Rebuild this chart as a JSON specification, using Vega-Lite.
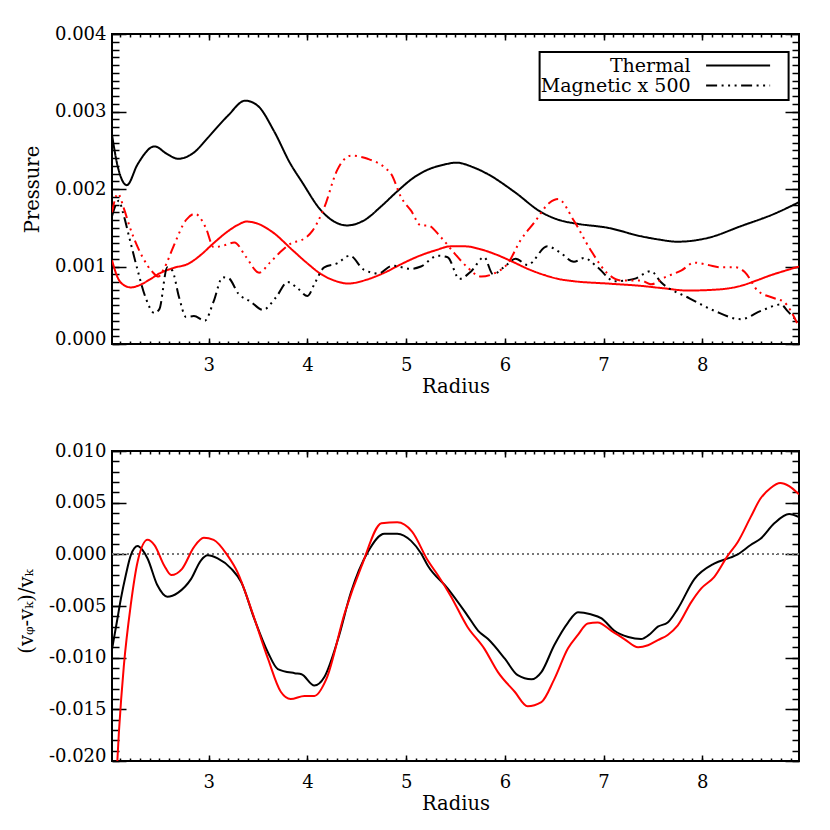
{
  "$schema": "https://vega.github.io/schema/vega-lite/v6.json",
  "background": "white",
  "padding": {"left": 15, "top": 24, "right": 10, "bottom": 5},
  "spacing": 44,
  "config": {
    "view": {"stroke": "black", "strokeWidth": 2},
    "axis": {
      "grid": false,
      "domain": false,
      "labelFont": "DejaVu Serif",
      "labelFontSize": 18,
      "labelColor": "black",
      "titleFont": "DejaVu Serif",
      "titleFontSize": 19.5,
      "titleFontWeight": "normal",
      "titleColor": "black",
      "tickColor": "black",
      "tickWidth": 1.5
    }
  },
  "vconcat": [
    {
      "width": 687,
      "height": 310,
      "data": {
        "values": [
          {"run": "A", "comp": "Thermal", "r": 2.02, "p": 0.0027},
          {"run": "A", "comp": "Thermal", "r": 2.08, "p": 0.00228},
          {"run": "A", "comp": "Thermal", "r": 2.17, "p": 0.00205},
          {"run": "A", "comp": "Thermal", "r": 2.28, "p": 0.00232},
          {"run": "A", "comp": "Thermal", "r": 2.45, "p": 0.00255},
          {"run": "A", "comp": "Thermal", "r": 2.58, "p": 0.00245},
          {"run": "A", "comp": "Thermal", "r": 2.69, "p": 0.00239},
          {"run": "A", "comp": "Thermal", "r": 2.85, "p": 0.00247},
          {"run": "A", "comp": "Thermal", "r": 2.99, "p": 0.00266},
          {"run": "A", "comp": "Thermal", "r": 3.19, "p": 0.00294},
          {"run": "A", "comp": "Thermal", "r": 3.37, "p": 0.00314},
          {"run": "A", "comp": "Thermal", "r": 3.5, "p": 0.00307},
          {"run": "A", "comp": "Thermal", "r": 3.66, "p": 0.00275},
          {"run": "A", "comp": "Thermal", "r": 3.83, "p": 0.00232},
          {"run": "A", "comp": "Thermal", "r": 3.94, "p": 0.0021},
          {"run": "A", "comp": "Thermal", "r": 4.14, "p": 0.00172},
          {"run": "A", "comp": "Thermal", "r": 4.27, "p": 0.00158},
          {"run": "A", "comp": "Thermal", "r": 4.4, "p": 0.00153},
          {"run": "A", "comp": "Thermal", "r": 4.58, "p": 0.0016},
          {"run": "A", "comp": "Thermal", "r": 4.75, "p": 0.00178},
          {"run": "A", "comp": "Thermal", "r": 4.91, "p": 0.00197},
          {"run": "A", "comp": "Thermal", "r": 5.08, "p": 0.00215},
          {"run": "A", "comp": "Thermal", "r": 5.22, "p": 0.00225},
          {"run": "A", "comp": "Thermal", "r": 5.37, "p": 0.00231},
          {"run": "A", "comp": "Thermal", "r": 5.51, "p": 0.00234},
          {"run": "A", "comp": "Thermal", "r": 5.68, "p": 0.00228},
          {"run": "A", "comp": "Thermal", "r": 5.83, "p": 0.00219},
          {"run": "A", "comp": "Thermal", "r": 6.1, "p": 0.00196},
          {"run": "A", "comp": "Thermal", "r": 6.37, "p": 0.0017},
          {"run": "A", "comp": "Thermal", "r": 6.55, "p": 0.0016},
          {"run": "A", "comp": "Thermal", "r": 6.74, "p": 0.00155},
          {"run": "A", "comp": "Thermal", "r": 7.04, "p": 0.0015},
          {"run": "A", "comp": "Thermal", "r": 7.38, "p": 0.00139},
          {"run": "A", "comp": "Thermal", "r": 7.55, "p": 0.00135},
          {"run": "A", "comp": "Thermal", "r": 7.75, "p": 0.00132},
          {"run": "A", "comp": "Thermal", "r": 8.06, "p": 0.00137},
          {"run": "A", "comp": "Thermal", "r": 8.39, "p": 0.00152},
          {"run": "A", "comp": "Thermal", "r": 8.73, "p": 0.00168},
          {"run": "A", "comp": "Thermal", "r": 8.98, "p": 0.00183},

          {"run": "B", "comp": "Thermal", "r": 2.02, "p": 0.00108},
          {"run": "B", "comp": "Thermal", "r": 2.08, "p": 0.00085},
          {"run": "B", "comp": "Thermal", "r": 2.14, "p": 0.00076},
          {"run": "B", "comp": "Thermal", "r": 2.21, "p": 0.00073},
          {"run": "B", "comp": "Thermal", "r": 2.3, "p": 0.00076},
          {"run": "B", "comp": "Thermal", "r": 2.4, "p": 0.00083},
          {"run": "B", "comp": "Thermal", "r": 2.5, "p": 0.00091},
          {"run": "B", "comp": "Thermal", "r": 2.64, "p": 0.00098},
          {"run": "B", "comp": "Thermal", "r": 2.8, "p": 0.00104},
          {"run": "B", "comp": "Thermal", "r": 2.92, "p": 0.00115},
          {"run": "B", "comp": "Thermal", "r": 3.04, "p": 0.00129},
          {"run": "B", "comp": "Thermal", "r": 3.2, "p": 0.00146},
          {"run": "B", "comp": "Thermal", "r": 3.3, "p": 0.00154},
          {"run": "B", "comp": "Thermal", "r": 3.38, "p": 0.00158},
          {"run": "B", "comp": "Thermal", "r": 3.48, "p": 0.00156},
          {"run": "B", "comp": "Thermal", "r": 3.65, "p": 0.00144},
          {"run": "B", "comp": "Thermal", "r": 3.85, "p": 0.00121},
          {"run": "B", "comp": "Thermal", "r": 4.0, "p": 0.00104},
          {"run": "B", "comp": "Thermal", "r": 4.14, "p": 0.0009},
          {"run": "B", "comp": "Thermal", "r": 4.27, "p": 0.00082},
          {"run": "B", "comp": "Thermal", "r": 4.41, "p": 0.00078},
          {"run": "B", "comp": "Thermal", "r": 4.6, "p": 0.00083},
          {"run": "B", "comp": "Thermal", "r": 4.78, "p": 0.00092},
          {"run": "B", "comp": "Thermal", "r": 4.95, "p": 0.00103},
          {"run": "B", "comp": "Thermal", "r": 5.12, "p": 0.00113},
          {"run": "B", "comp": "Thermal", "r": 5.3, "p": 0.00121},
          {"run": "B", "comp": "Thermal", "r": 5.45, "p": 0.00126},
          {"run": "B", "comp": "Thermal", "r": 5.6, "p": 0.00126},
          {"run": "B", "comp": "Thermal", "r": 5.76, "p": 0.00122},
          {"run": "B", "comp": "Thermal", "r": 5.92, "p": 0.00115},
          {"run": "B", "comp": "Thermal", "r": 6.08, "p": 0.00106},
          {"run": "B", "comp": "Thermal", "r": 6.25, "p": 0.00096},
          {"run": "B", "comp": "Thermal", "r": 6.4, "p": 0.00089},
          {"run": "B", "comp": "Thermal", "r": 6.54, "p": 0.00084},
          {"run": "B", "comp": "Thermal", "r": 6.7, "p": 0.00081},
          {"run": "B", "comp": "Thermal", "r": 7.04, "p": 0.00078},
          {"run": "B", "comp": "Thermal", "r": 7.38, "p": 0.00075},
          {"run": "B", "comp": "Thermal", "r": 7.6, "p": 0.00072},
          {"run": "B", "comp": "Thermal", "r": 7.85, "p": 0.00069},
          {"run": "B", "comp": "Thermal", "r": 8.12, "p": 0.0007},
          {"run": "B", "comp": "Thermal", "r": 8.39, "p": 0.00075},
          {"run": "B", "comp": "Thermal", "r": 8.55, "p": 0.00082},
          {"run": "B", "comp": "Thermal", "r": 8.7, "p": 0.00089},
          {"run": "B", "comp": "Thermal", "r": 8.85, "p": 0.00095},
          {"run": "B", "comp": "Thermal", "r": 8.98, "p": 0.001},

          {"run": "A", "comp": "Magnetic x 500", "r": 2.02, "p": 0.00165},
          {"run": "A", "comp": "Magnetic x 500", "r": 2.09, "p": 0.00185},
          {"run": "A", "comp": "Magnetic x 500", "r": 2.13, "p": 0.0017},
          {"run": "A", "comp": "Magnetic x 500", "r": 2.2, "p": 0.00135},
          {"run": "A", "comp": "Magnetic x 500", "r": 2.28, "p": 0.00095},
          {"run": "A", "comp": "Magnetic x 500", "r": 2.36, "p": 0.0006},
          {"run": "A", "comp": "Magnetic x 500", "r": 2.45, "p": 0.0004},
          {"run": "A", "comp": "Magnetic x 500", "r": 2.5, "p": 0.00045},
          {"run": "A", "comp": "Magnetic x 500", "r": 2.58, "p": 0.00099},
          {"run": "A", "comp": "Magnetic x 500", "r": 2.63, "p": 0.00095},
          {"run": "A", "comp": "Magnetic x 500", "r": 2.7, "p": 0.0006},
          {"run": "A", "comp": "Magnetic x 500", "r": 2.77, "p": 0.00035},
          {"run": "A", "comp": "Magnetic x 500", "r": 2.85, "p": 0.00036},
          {"run": "A", "comp": "Magnetic x 500", "r": 2.96, "p": 0.0003},
          {"run": "A", "comp": "Magnetic x 500", "r": 3.05, "p": 0.00055},
          {"run": "A", "comp": "Magnetic x 500", "r": 3.14, "p": 0.00086},
          {"run": "A", "comp": "Magnetic x 500", "r": 3.2, "p": 0.00085},
          {"run": "A", "comp": "Magnetic x 500", "r": 3.3, "p": 0.00065},
          {"run": "A", "comp": "Magnetic x 500", "r": 3.42, "p": 0.00055},
          {"run": "A", "comp": "Magnetic x 500", "r": 3.55, "p": 0.00044},
          {"run": "A", "comp": "Magnetic x 500", "r": 3.68, "p": 0.0006},
          {"run": "A", "comp": "Magnetic x 500", "r": 3.8, "p": 0.0008},
          {"run": "A", "comp": "Magnetic x 500", "r": 3.9, "p": 0.00072},
          {"run": "A", "comp": "Magnetic x 500", "r": 4.0, "p": 0.00062},
          {"run": "A", "comp": "Magnetic x 500", "r": 4.08, "p": 0.0008},
          {"run": "A", "comp": "Magnetic x 500", "r": 4.17, "p": 0.00099},
          {"run": "A", "comp": "Magnetic x 500", "r": 4.3, "p": 0.00104},
          {"run": "A", "comp": "Magnetic x 500", "r": 4.43, "p": 0.00114},
          {"run": "A", "comp": "Magnetic x 500", "r": 4.57, "p": 0.00096},
          {"run": "A", "comp": "Magnetic x 500", "r": 4.72, "p": 0.00091},
          {"run": "A", "comp": "Magnetic x 500", "r": 4.86, "p": 0.00101},
          {"run": "A", "comp": "Magnetic x 500", "r": 5.05, "p": 0.00097},
          {"run": "A", "comp": "Magnetic x 500", "r": 5.15, "p": 0.001},
          {"run": "A", "comp": "Magnetic x 500", "r": 5.32, "p": 0.00114},
          {"run": "A", "comp": "Magnetic x 500", "r": 5.42, "p": 0.00112},
          {"run": "A", "comp": "Magnetic x 500", "r": 5.54, "p": 0.00084},
          {"run": "A", "comp": "Magnetic x 500", "r": 5.66, "p": 0.00094},
          {"run": "A", "comp": "Magnetic x 500", "r": 5.79, "p": 0.00112},
          {"run": "A", "comp": "Magnetic x 500", "r": 5.88, "p": 0.0009},
          {"run": "A", "comp": "Magnetic x 500", "r": 5.99, "p": 0.00099},
          {"run": "A", "comp": "Magnetic x 500", "r": 6.11, "p": 0.0011},
          {"run": "A", "comp": "Magnetic x 500", "r": 6.23, "p": 0.00102},
          {"run": "A", "comp": "Magnetic x 500", "r": 6.43, "p": 0.00126},
          {"run": "A", "comp": "Magnetic x 500", "r": 6.56, "p": 0.00118},
          {"run": "A", "comp": "Magnetic x 500", "r": 6.7, "p": 0.00106},
          {"run": "A", "comp": "Magnetic x 500", "r": 6.8, "p": 0.00111},
          {"run": "A", "comp": "Magnetic x 500", "r": 6.94, "p": 0.00099},
          {"run": "A", "comp": "Magnetic x 500", "r": 7.11, "p": 0.00081},
          {"run": "A", "comp": "Magnetic x 500", "r": 7.31, "p": 0.00084},
          {"run": "A", "comp": "Magnetic x 500", "r": 7.48, "p": 0.00094},
          {"run": "A", "comp": "Magnetic x 500", "r": 7.58, "p": 0.0008},
          {"run": "A", "comp": "Magnetic x 500", "r": 7.87, "p": 0.00059},
          {"run": "A", "comp": "Magnetic x 500", "r": 8.12, "p": 0.00043},
          {"run": "A", "comp": "Magnetic x 500", "r": 8.39, "p": 0.00032},
          {"run": "A", "comp": "Magnetic x 500", "r": 8.6, "p": 0.00043},
          {"run": "A", "comp": "Magnetic x 500", "r": 8.8, "p": 0.00051},
          {"run": "A", "comp": "Magnetic x 500", "r": 8.86, "p": 0.00043},
          {"run": "A", "comp": "Magnetic x 500", "r": 8.97, "p": 0.00028},

          {"run": "B", "comp": "Magnetic x 500", "r": 2.02, "p": 0.0017},
          {"run": "B", "comp": "Magnetic x 500", "r": 2.08, "p": 0.00194},
          {"run": "B", "comp": "Magnetic x 500", "r": 2.14, "p": 0.00175},
          {"run": "B", "comp": "Magnetic x 500", "r": 2.2, "p": 0.00151},
          {"run": "B", "comp": "Magnetic x 500", "r": 2.33, "p": 0.00112},
          {"run": "B", "comp": "Magnetic x 500", "r": 2.43, "p": 0.00093},
          {"run": "B", "comp": "Magnetic x 500", "r": 2.49, "p": 0.00087},
          {"run": "B", "comp": "Magnetic x 500", "r": 2.55, "p": 0.00098},
          {"run": "B", "comp": "Magnetic x 500", "r": 2.64, "p": 0.00125},
          {"run": "B", "comp": "Magnetic x 500", "r": 2.77, "p": 0.0016},
          {"run": "B", "comp": "Magnetic x 500", "r": 2.86, "p": 0.00168},
          {"run": "B", "comp": "Magnetic x 500", "r": 2.97, "p": 0.0015},
          {"run": "B", "comp": "Magnetic x 500", "r": 3.05, "p": 0.00125},
          {"run": "B", "comp": "Magnetic x 500", "r": 3.15, "p": 0.00127},
          {"run": "B", "comp": "Magnetic x 500", "r": 3.26, "p": 0.00131},
          {"run": "B", "comp": "Magnetic x 500", "r": 3.38, "p": 0.00112},
          {"run": "B", "comp": "Magnetic x 500", "r": 3.51, "p": 0.00092},
          {"run": "B", "comp": "Magnetic x 500", "r": 3.62, "p": 0.00105},
          {"run": "B", "comp": "Magnetic x 500", "r": 3.72, "p": 0.00118},
          {"run": "B", "comp": "Magnetic x 500", "r": 3.85, "p": 0.00131},
          {"run": "B", "comp": "Magnetic x 500", "r": 3.94, "p": 0.00134},
          {"run": "B", "comp": "Magnetic x 500", "r": 4.05, "p": 0.00146},
          {"run": "B", "comp": "Magnetic x 500", "r": 4.17, "p": 0.00176},
          {"run": "B", "comp": "Magnetic x 500", "r": 4.3, "p": 0.00224},
          {"run": "B", "comp": "Magnetic x 500", "r": 4.44, "p": 0.00243},
          {"run": "B", "comp": "Magnetic x 500", "r": 4.61, "p": 0.00239},
          {"run": "B", "comp": "Magnetic x 500", "r": 4.78, "p": 0.00228},
          {"run": "B", "comp": "Magnetic x 500", "r": 4.85, "p": 0.00219},
          {"run": "B", "comp": "Magnetic x 500", "r": 4.95, "p": 0.00189},
          {"run": "B", "comp": "Magnetic x 500", "r": 5.05, "p": 0.00172},
          {"run": "B", "comp": "Magnetic x 500", "r": 5.15, "p": 0.00153},
          {"run": "B", "comp": "Magnetic x 500", "r": 5.22, "p": 0.00153},
          {"run": "B", "comp": "Magnetic x 500", "r": 5.35, "p": 0.00138},
          {"run": "B", "comp": "Magnetic x 500", "r": 5.49, "p": 0.00117},
          {"run": "B", "comp": "Magnetic x 500", "r": 5.62, "p": 0.00099},
          {"run": "B", "comp": "Magnetic x 500", "r": 5.76, "p": 0.00087},
          {"run": "B", "comp": "Magnetic x 500", "r": 5.89, "p": 0.00091},
          {"run": "B", "comp": "Magnetic x 500", "r": 6.03, "p": 0.00104},
          {"run": "B", "comp": "Magnetic x 500", "r": 6.16, "p": 0.00134},
          {"run": "B", "comp": "Magnetic x 500", "r": 6.3, "p": 0.00157},
          {"run": "B", "comp": "Magnetic x 500", "r": 6.45, "p": 0.00182},
          {"run": "B", "comp": "Magnetic x 500", "r": 6.54, "p": 0.00187},
          {"run": "B", "comp": "Magnetic x 500", "r": 6.7, "p": 0.00159},
          {"run": "B", "comp": "Magnetic x 500", "r": 6.87, "p": 0.00121},
          {"run": "B", "comp": "Magnetic x 500", "r": 7.04, "p": 0.00091},
          {"run": "B", "comp": "Magnetic x 500", "r": 7.18, "p": 0.00082},
          {"run": "B", "comp": "Magnetic x 500", "r": 7.38, "p": 0.00082},
          {"run": "B", "comp": "Magnetic x 500", "r": 7.48, "p": 0.00077},
          {"run": "B", "comp": "Magnetic x 500", "r": 7.62, "p": 0.00086},
          {"run": "B", "comp": "Magnetic x 500", "r": 7.79, "p": 0.00095},
          {"run": "B", "comp": "Magnetic x 500", "r": 7.92, "p": 0.00105},
          {"run": "B", "comp": "Magnetic x 500", "r": 8.06, "p": 0.00102},
          {"run": "B", "comp": "Magnetic x 500", "r": 8.19, "p": 0.00099},
          {"run": "B", "comp": "Magnetic x 500", "r": 8.33, "p": 0.00099},
          {"run": "B", "comp": "Magnetic x 500", "r": 8.43, "p": 0.00093},
          {"run": "B", "comp": "Magnetic x 500", "r": 8.56, "p": 0.00069},
          {"run": "B", "comp": "Magnetic x 500", "r": 8.73, "p": 0.00059},
          {"run": "B", "comp": "Magnetic x 500", "r": 8.83, "p": 0.00054},
          {"run": "B", "comp": "Magnetic x 500", "r": 8.96, "p": 0.00027}
        ]
      },
      "layer": [
        {
          "mark": {"type": "line", "strokeWidth": 2, "interpolate": "monotone", "clip": true},
          "encoding": {
            "x": {
              "field": "r", "type": "quantitative",
              "scale": {"domain": [2.02, 8.98], "nice": false, "zero": false},
              "axis": {"orient": "bottom", "values": [3, 4, 5, 6, 7, 8], "format": "d", "ticks": false, "labelPadding": 12, "title": "Radius", "titlePadding": 3}
            },
            "y": {
              "field": "p", "type": "quantitative",
              "scale": {"domain": [0, 0.004], "nice": false, "zero": false},
              "axis": {
                "orient": "left", "values": [0, 0.001, 0.002, 0.003, 0.004], "ticks": false, "labelPadding": 6,
                "labelExpr": "format(datum.value, '.3f')",
                "labelBaseline": {"condition": {"test": "datum.value < 0.00005", "value": "alphabetic"}, "value": "middle"},
                "title": "Pressure", "titlePadding": 12
              }
            },
            "color": {"field": "run", "type": "nominal", "scale": {"domain": ["A", "B"], "range": ["#000000", "#ff0000"]}, "legend": null},
            "strokeDash": {
              "field": "comp", "type": "nominal",
              "scale": {"domain": ["Thermal", "Magnetic x 500"], "range": [[1, 0], [11, 4.5, 2, 4.5, 2, 4.5, 2, 4.5]]},
              "legend": {
                "orient": "none", "legendX": 427.6, "legendY": 18,
                "title": "\u00a0", "titleOrient": "right", "titlePadding": 10, "titleFontSize": 19,
                "symbolType": "M-8,0H8", "symbolSize": 64, "symbolStrokeWidth": 2, "symbolStrokeColor": "black", "symbolFillColor": "transparent",
                "rowPadding": -4,
                "labelAlign": "right", "labelOffset": -57, "symbolOffset": 185,
                "labelFont": "DejaVu Serif", "labelFontSize": 19, "labelColor": "black", "labelLimit": 400,
                "strokeColor": "black", "fillColor": "white", "padding": 4,
                "encode": {"legend": {"update": {"strokeWidth": {"value": 2}}}}
              }
            }
          }
        },
        {
          "mark": {"type": "point", "opacity": 0},
          "encoding": {
            "x": {"datum": 5, "type": "quantitative", "axis": {"orient": "bottom", "values": [3, 4, 5, 6, 7, 8], "labels": false, "tickSize": -6, "title": null}},
            "y": {"datum": 0.002, "type": "quantitative", "axis": {"orient": "left", "values": [0, 0.001, 0.002, 0.003, 0.004], "labels": false, "tickSize": -14, "title": null}}
          }
        },
        {
          "mark": {"type": "point", "opacity": 0},
          "encoding": {
            "x": {"datum": 5, "type": "quantitative", "axis": {"orient": "bottom", "tickCount": 70, "labels": false, "tickSize": -3, "title": null}},
            "y": {"datum": 0.002, "type": "quantitative", "axis": {"orient": "left", "tickCount": 40, "labels": false, "tickSize": -7, "title": null}}
          }
        },
        {
          "mark": {"type": "point", "opacity": 0},
          "encoding": {
            "x": {"datum": 5, "type": "quantitative", "axis": {"orient": "top", "values": [3, 4, 5, 6, 7, 8], "labels": false, "tickSize": -6, "title": null}},
            "y": {"datum": 0.002, "type": "quantitative", "axis": {"orient": "right", "values": [0, 0.001, 0.002, 0.003, 0.004], "labels": false, "tickSize": -14, "title": null}}
          }
        },
        {
          "mark": {"type": "point", "opacity": 0},
          "encoding": {
            "x": {"datum": 5, "type": "quantitative", "axis": {"orient": "top", "tickCount": 70, "labels": false, "tickSize": -3, "title": null}},
            "y": {"datum": 0.002, "type": "quantitative", "axis": {"orient": "right", "tickCount": 40, "labels": false, "tickSize": -7, "title": null}}
          }
        }
      ],
      "resolve": {"axis": {"x": "independent", "y": "independent"}}
    },
    {
      "width": 687,
      "height": 310,
      "data": {
        "values": [
          {"run": "A", "r": 2.02, "v": -0.0092},
          {"run": "A", "r": 2.07, "v": -0.0065},
          {"run": "A", "r": 2.11, "v": -0.0043},
          {"run": "A", "r": 2.16, "v": -0.002},
          {"run": "A", "r": 2.21, "v": -0.0001},
          {"run": "A", "r": 2.28, "v": 0.0008},
          {"run": "A", "r": 2.33, "v": 0.0004},
          {"run": "A", "r": 2.38, "v": -0.0004},
          {"run": "A", "r": 2.48, "v": -0.003},
          {"run": "A", "r": 2.58, "v": -0.0041},
          {"run": "A", "r": 2.69, "v": -0.0037},
          {"run": "A", "r": 2.82, "v": -0.0024},
          {"run": "A", "r": 2.92, "v": -0.0006},
          {"run": "A", "r": 2.99, "v": -0.0001},
          {"run": "A", "r": 3.09, "v": -0.0004},
          {"run": "A", "r": 3.23, "v": -0.0014},
          {"run": "A", "r": 3.33, "v": -0.0027},
          {"run": "A", "r": 3.46, "v": -0.0062},
          {"run": "A", "r": 3.6, "v": -0.0095},
          {"run": "A", "r": 3.7, "v": -0.0111},
          {"run": "A", "r": 3.87, "v": -0.0115},
          {"run": "A", "r": 3.94, "v": -0.0116},
          {"run": "A", "r": 4.07, "v": -0.0127},
          {"run": "A", "r": 4.17, "v": -0.0119},
          {"run": "A", "r": 4.31, "v": -0.0082},
          {"run": "A", "r": 4.44, "v": -0.0037},
          {"run": "A", "r": 4.61, "v": 0.0002},
          {"run": "A", "r": 4.78, "v": 0.002},
          {"run": "A", "r": 4.91, "v": 0.002},
          {"run": "A", "r": 5.05, "v": 0.0013},
          {"run": "A", "r": 5.15, "v": 0.0001},
          {"run": "A", "r": 5.22, "v": -0.0011},
          {"run": "A", "r": 5.42, "v": -0.0033},
          {"run": "A", "r": 5.62, "v": -0.0059},
          {"run": "A", "r": 5.73, "v": -0.0074},
          {"run": "A", "r": 5.83, "v": -0.0082},
          {"run": "A", "r": 6.0, "v": -0.0101},
          {"run": "A", "r": 6.13, "v": -0.0117},
          {"run": "A", "r": 6.27, "v": -0.0121},
          {"run": "A", "r": 6.37, "v": -0.0114},
          {"run": "A", "r": 6.5, "v": -0.0088},
          {"run": "A", "r": 6.64, "v": -0.0066},
          {"run": "A", "r": 6.74, "v": -0.0056},
          {"run": "A", "r": 6.87, "v": -0.0058},
          {"run": "A", "r": 6.98, "v": -0.0062},
          {"run": "A", "r": 7.11, "v": -0.0074},
          {"run": "A", "r": 7.25, "v": -0.008},
          {"run": "A", "r": 7.38, "v": -0.0082},
          {"run": "A", "r": 7.46, "v": -0.0078},
          {"run": "A", "r": 7.55, "v": -0.007},
          {"run": "A", "r": 7.65, "v": -0.0066},
          {"run": "A", "r": 7.75, "v": -0.0053},
          {"run": "A", "r": 7.92, "v": -0.0024},
          {"run": "A", "r": 8.12, "v": -0.0009},
          {"run": "A", "r": 8.29, "v": -0.0003},
          {"run": "A", "r": 8.36, "v": 0.0},
          {"run": "A", "r": 8.49, "v": 0.0009},
          {"run": "A", "r": 8.59, "v": 0.0015},
          {"run": "A", "r": 8.73, "v": 0.003},
          {"run": "A", "r": 8.88, "v": 0.0039},
          {"run": "A", "r": 8.98, "v": 0.0036},

          {"run": "B", "r": 2.04, "v": -0.026},
          {"run": "B", "r": 2.09, "v": -0.0172},
          {"run": "B", "r": 2.14, "v": -0.0108},
          {"run": "B", "r": 2.21, "v": -0.0049},
          {"run": "B", "r": 2.28, "v": -0.0007},
          {"run": "B", "r": 2.38, "v": 0.0014},
          {"run": "B", "r": 2.45, "v": 0.0009},
          {"run": "B", "r": 2.55, "v": -0.0011},
          {"run": "B", "r": 2.62, "v": -0.002},
          {"run": "B", "r": 2.73, "v": -0.0014},
          {"run": "B", "r": 2.85, "v": 0.0007},
          {"run": "B", "r": 2.95, "v": 0.0016},
          {"run": "B", "r": 3.05, "v": 0.0014},
          {"run": "B", "r": 3.19, "v": -0.0001},
          {"run": "B", "r": 3.29, "v": -0.0017},
          {"run": "B", "r": 3.43, "v": -0.0053},
          {"run": "B", "r": 3.6, "v": -0.0101},
          {"run": "B", "r": 3.73, "v": -0.0133},
          {"run": "B", "r": 3.83, "v": -0.014},
          {"run": "B", "r": 3.97, "v": -0.0137},
          {"run": "B", "r": 4.07, "v": -0.0137},
          {"run": "B", "r": 4.19, "v": -0.0121},
          {"run": "B", "r": 4.38, "v": -0.0056},
          {"run": "B", "r": 4.55, "v": -0.0011},
          {"run": "B", "r": 4.75, "v": 0.003},
          {"run": "B", "r": 4.91, "v": 0.0031},
          {"run": "B", "r": 5.06, "v": 0.0022},
          {"run": "B", "r": 5.22, "v": -0.0006},
          {"run": "B", "r": 5.32, "v": -0.002},
          {"run": "B", "r": 5.45, "v": -0.004},
          {"run": "B", "r": 5.62, "v": -0.007},
          {"run": "B", "r": 5.79, "v": -0.0091},
          {"run": "B", "r": 5.93, "v": -0.0114},
          {"run": "B", "r": 6.1, "v": -0.0133},
          {"run": "B", "r": 6.23, "v": -0.0147},
          {"run": "B", "r": 6.37, "v": -0.0143},
          {"run": "B", "r": 6.5, "v": -0.0121},
          {"run": "B", "r": 6.64, "v": -0.0091},
          {"run": "B", "r": 6.74, "v": -0.0078},
          {"run": "B", "r": 6.84, "v": -0.0067},
          {"run": "B", "r": 6.94, "v": -0.0066},
          {"run": "B", "r": 7.08, "v": -0.0074},
          {"run": "B", "r": 7.21, "v": -0.0082},
          {"run": "B", "r": 7.35, "v": -0.009},
          {"run": "B", "r": 7.45, "v": -0.0088},
          {"run": "B", "r": 7.55, "v": -0.0083},
          {"run": "B", "r": 7.65, "v": -0.0078},
          {"run": "B", "r": 7.75, "v": -0.0069},
          {"run": "B", "r": 7.89, "v": -0.0046},
          {"run": "B", "r": 7.99, "v": -0.0033},
          {"run": "B", "r": 8.12, "v": -0.0022},
          {"run": "B", "r": 8.26, "v": -0.0001},
          {"run": "B", "r": 8.36, "v": 0.0012},
          {"run": "B", "r": 8.49, "v": 0.0036},
          {"run": "B", "r": 8.59, "v": 0.0054},
          {"run": "B", "r": 8.69, "v": 0.0064},
          {"run": "B", "r": 8.79, "v": 0.0069},
          {"run": "B", "r": 8.88, "v": 0.0066},
          {"run": "B", "r": 8.98, "v": 0.0058}
        ]
      },
      "layer": [
        {
          "mark": {"type": "rule", "strokeDash": [2, 3], "color": "#777777", "strokeWidth": 1},
          "encoding": {"y": {"datum": 0, "type": "quantitative", "axis": null}}
        },
        {
          "mark": {"type": "line", "strokeWidth": 2, "interpolate": "monotone", "clip": true},
          "encoding": {
            "x": {
              "field": "r", "type": "quantitative",
              "scale": {"domain": [2.02, 8.98], "nice": false, "zero": false},
              "axis": {"orient": "bottom", "values": [3, 4, 5, 6, 7, 8], "format": "d", "ticks": false, "labelPadding": 12, "title": "Radius", "titlePadding": 3}
            },
            "y": {
              "field": "v", "type": "quantitative",
              "scale": {"domain": [-0.02, 0.01], "nice": false, "zero": false},
              "axis": {
                "orient": "left", "values": [-0.02, -0.015, -0.01, -0.005, 0, 0.005, 0.01], "ticks": false, "labelPadding": 6,
                "labelExpr": "replace(format(datum.value, '.3f'), '\u2212', '-')",
                "labelBaseline": {"condition": {"test": "datum.value < -0.0195", "value": "alphabetic"}, "value": "middle"},
                "title": "(v\u1d69-v\u2096)/v\u2096", "titlePadding": 12, "titleY": 160
              }
            },
            "color": {"field": "run", "type": "nominal", "scale": {"domain": ["A", "B"], "range": ["#000000", "#ff0000"]}, "legend": null}
          }
        },
        {
          "mark": {"type": "point", "opacity": 0},
          "encoding": {
            "x": {"datum": 5, "type": "quantitative", "axis": {"orient": "bottom", "values": [3, 4, 5, 6, 7, 8], "labels": false, "tickSize": -6, "title": null}},
            "y": {"datum": 0, "type": "quantitative", "axis": {"orient": "left", "values": [-0.02, -0.015, -0.01, -0.005, 0, 0.005, 0.01], "labels": false, "tickSize": -14, "title": null}}
          }
        },
        {
          "mark": {"type": "point", "opacity": 0},
          "encoding": {
            "x": {"datum": 5, "type": "quantitative", "axis": {"orient": "bottom", "tickCount": 70, "labels": false, "tickSize": -3, "title": null}},
            "y": {"datum": 0, "type": "quantitative", "axis": {"orient": "left", "tickCount": 30, "labels": false, "tickSize": -7, "title": null}}
          }
        },
        {
          "mark": {"type": "point", "opacity": 0},
          "encoding": {
            "x": {"datum": 5, "type": "quantitative", "axis": {"orient": "top", "values": [3, 4, 5, 6, 7, 8], "labels": false, "tickSize": -6, "title": null}},
            "y": {"datum": 0, "type": "quantitative", "axis": {"orient": "right", "values": [-0.02, -0.015, -0.01, -0.005, 0, 0.005, 0.01], "labels": false, "tickSize": -14, "title": null}}
          }
        },
        {
          "mark": {"type": "point", "opacity": 0},
          "encoding": {
            "x": {"datum": 5, "type": "quantitative", "axis": {"orient": "top", "tickCount": 70, "labels": false, "tickSize": -3, "title": null}},
            "y": {"datum": 0, "type": "quantitative", "axis": {"orient": "right", "tickCount": 30, "labels": false, "tickSize": -7, "title": null}}
          }
        }
      ],
      "resolve": {"axis": {"x": "independent", "y": "independent"}}
    }
  ]
}
